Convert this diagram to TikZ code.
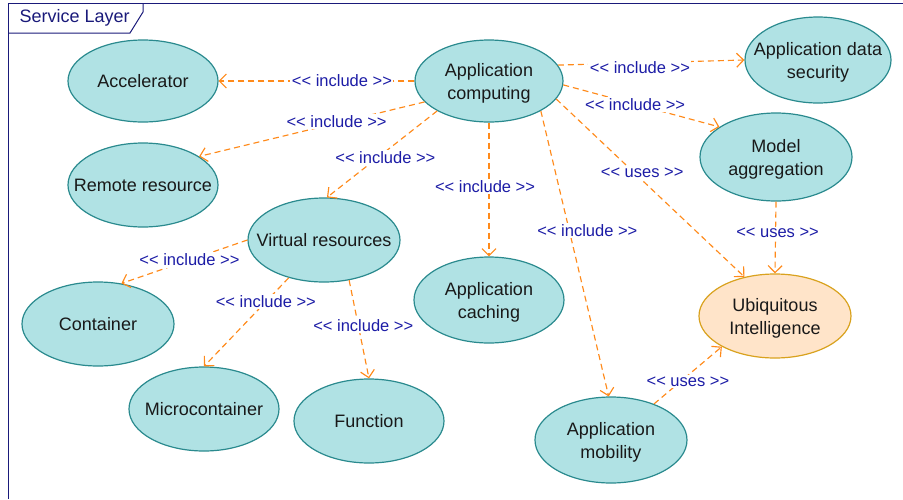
\documentclass[tikz,border=0pt]{standalone}
\usepackage{fontspec}
\setmainfont{Liberation Sans}
\usetikzlibrary{shapes.geometric,arrows.meta}
\definecolor{ucfill}{HTML}{B0E2E4}
\definecolor{ucdraw}{HTML}{2A8A8E}
\definecolor{uifill}{HTML}{FFE4C9}
\definecolor{uidraw}{HTML}{D9A21E}
\definecolor{depc}{HTML}{FF8A1A}
\definecolor{lblc}{HTML}{1C1CA6}
\definecolor{framec}{HTML}{1A1A7A}
\newcommand\LLa{<\kern0pt<}
\newcommand\GGa{>\kern0pt>}
\begin{document}
\begin{tikzpicture}[x=1pt,y=-1pt,
 uc/.style={ellipse, draw=ucdraw, fill=ucfill, line width=1.2pt, inner sep=0pt, minimum width=150pt, minimum height=84pt},
 uibox/.style={uc, draw=uidraw, fill=uifill},
 txt/.style={align=center, font=\fontsize{18}{23.5}\selectfont, text=black!90, inner sep=0pt},
 txtb/.style={txt, yshift=-2.5pt},
 dep/.style={draw=depc, line width=1.15pt, dash pattern=on 6pt off 4pt, -{Straight Barb[length=7pt,width=14pt,line width=1.15pt]}},
 lbl/.style={fill=white, text=lblc, font=\fontsize{16.5}{19}\selectfont, inner sep=1.5pt},
]
\path[use as bounding box] (0,0) rectangle (903,499);
% frame
\draw[framec, line width=1pt] (903,3) -- (8,3) -- (8,499);
\draw[framec, line width=1pt] (8,33) -- (130,33) -- (143,12) -- (143,3);
\node[text=framec, font=\fontsize{18}{20}\selectfont, anchor=west, inner sep=0pt] (title) at (19.5,18) {Service Layer};
% use cases
\node[uc, minimum width=148pt, minimum height=82pt, label={[txtb]center:Application\\computing}] (ac) at (489,81) {};
\node[uc, minimum width=150pt, minimum height=82pt, label={[txt]center:Accelerator}] (acc) at (143,81) {};
\node[uc, minimum width=146pt, minimum height=86pt, label={[txtb]center:Application data\\security}] (ads) at (818,60) {};
\node[uc, minimum width=150pt, minimum height=84pt, label={[txt]center:Remote resource}] (rr) at (143,185) {};
\node[uc, minimum width=152pt, minimum height=88pt, label={[txtb]center:Model\\aggregation}] (ma) at (776,157) {};
\node[uc, minimum width=152pt, minimum height=84pt, label={[txt]center:Virtual resources}] (vr) at (324,240) {};
\node[uc, minimum width=150pt, minimum height=86pt, label={[txtb]center:Application\\caching}] (cach) at (489,300) {};
\node[uc, minimum width=152pt, minimum height=84pt, label={[txt]center:Container}] (con) at (98,324) {};
\node[uibox, minimum width=152pt, minimum height=84pt, label={[txtb]center:Ubiquitous\\Intelligence}] (ui) at (775,316) {};
\node[uc, minimum width=150pt, minimum height=84pt, label={[txt]center:Microcontainer}] (mc) at (204,409) {};
\node[uc, minimum width=150pt, minimum height=84pt, label={[txt]center:Function}] (fn) at (369,421) {};
\node[uc, minimum width=152pt, minimum height=86pt, label={[txtb]center:Application\\mobility}] (am) at (611,440) {};
% dependencies
\draw[dep] (ac) -- node[lbl,pos=0.37] (l1) {\LLa{} include \GGa} (acc);
\draw[dep] (ac.198) -- node[lbl,pos=0.39,yshift=2pt] (l2) {\LLa{} include \GGa} (rr.27);
\draw[dep] (ac.-150) -- node[lbl,pos=0.47,yshift=-6pt] (l3) {\LLa{} include \GGa} (vr.86);
\draw[dep] (ac) -- node[lbl,pos=0.46,xshift=-4pt,yshift=-2pt] (l4) {\LLa{} include \GGa} (cach);
\draw[dep] (ac.13) -- node[lbl,pos=0.44,yshift=-5pt] (l5) {\LLa{} include \GGa} (ads.180);
\draw[dep] (ac.-3) -- node[lbl,pos=0.46] (l6) {\LLa{} include \GGa} (ma.152);
\draw[dep] (ac.-15) -- node[lbl,pos=0.43,xshift=5pt,yshift=3pt] (l7) {\LLa{} uses \GGa} (ui.128);
\draw[dep] (ac.-30) -- node[lbl,pos=0.42,xshift=18pt] (l8) {\LLa{} include \GGa} (am.93);
\draw[dep] (ma.-90) -- node[lbl,pos=0.44,xshift=2pt] (l9) {\LLa{} uses \GGa} (ui.90);
\draw[dep] (am.40) -- node[lbl,pos=0.5,yshift=-6pt] (l10) {\LLa{} uses \GGa} (ui.210);
\draw[dep] (vr.180) -- node[lbl,pos=0.46] (l11) {\LLa{} include \GGa} (con.60);
\draw[dep] (vr.227) -- node[lbl,pos=0.27] (l12) {\LLa{} include \GGa} (mc.90);
\draw[dep] (vr.-58) -- node[lbl,pos=0.46,xshift=5pt] (l13) {\LLa{} include \GGa} (fn.90);
\end{tikzpicture}
\end{document}
